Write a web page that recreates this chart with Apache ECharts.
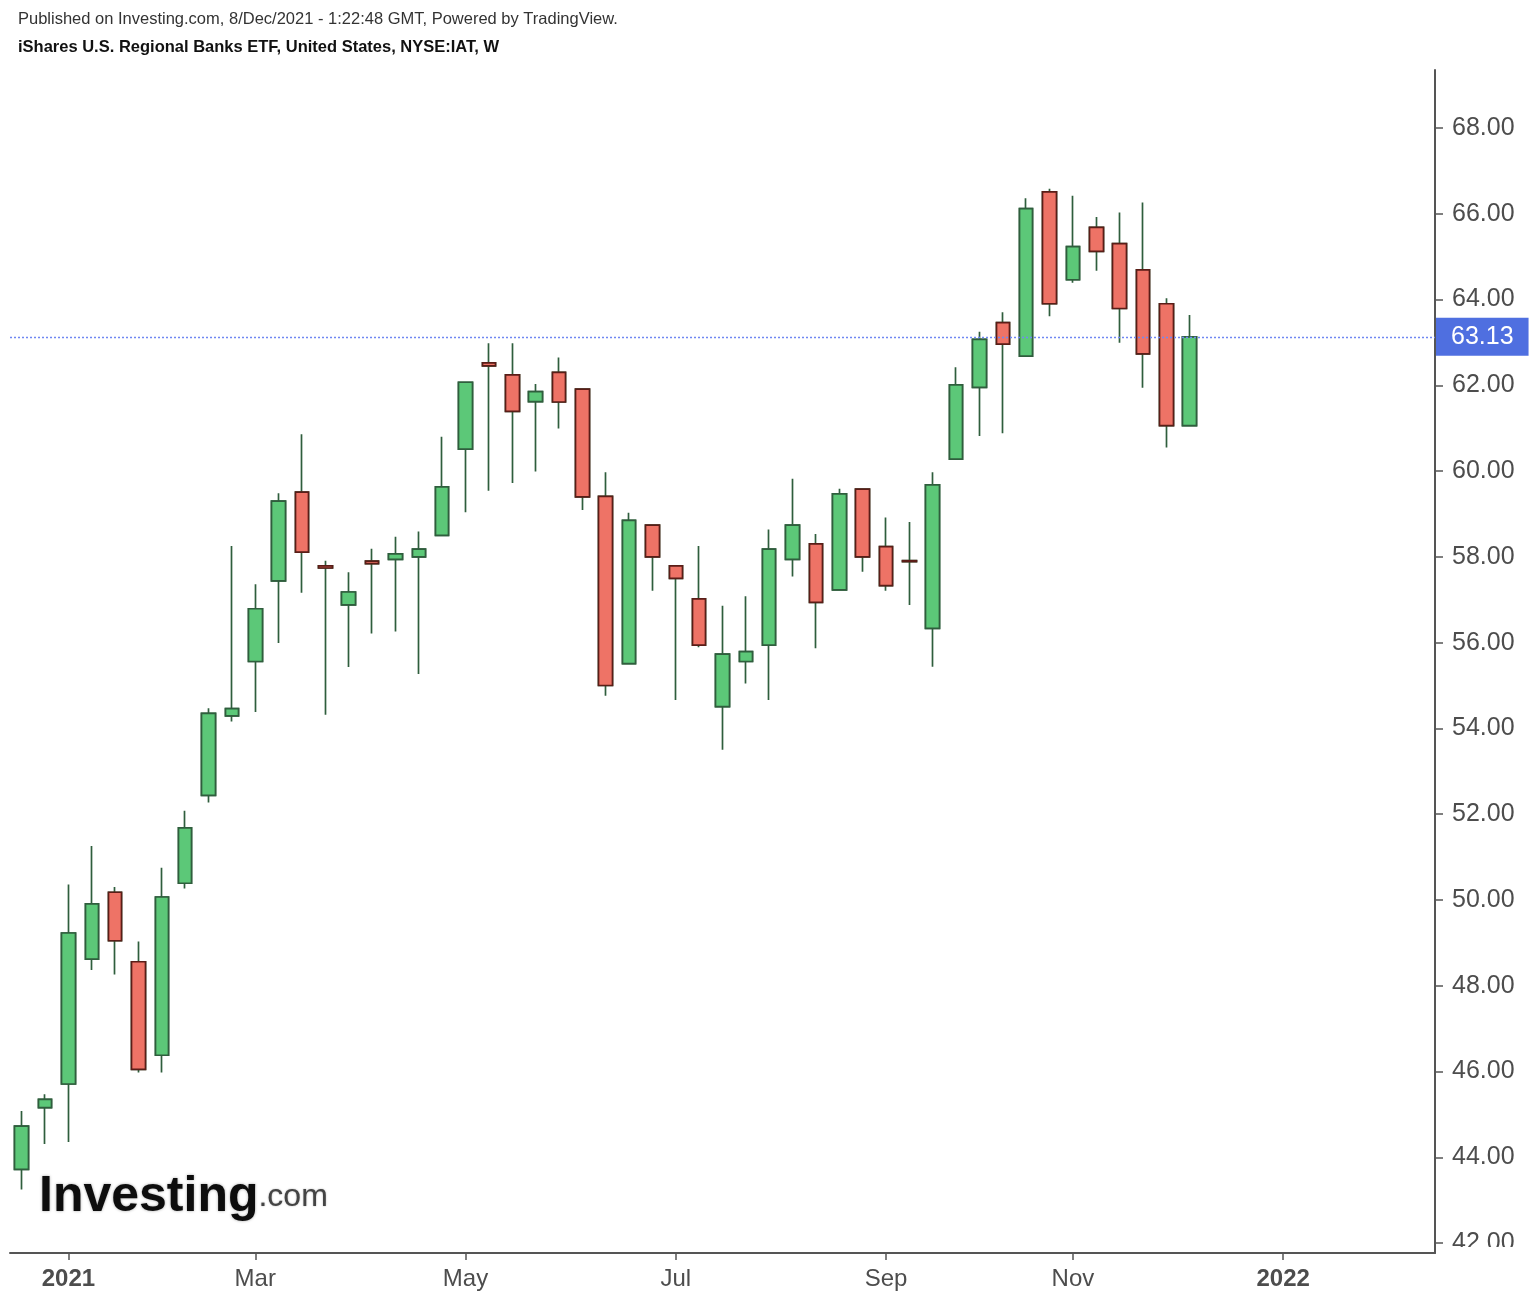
<!DOCTYPE html>
<html>
<head>
<meta charset="utf-8">
<script src="https://cdn.jsdelivr.net/npm/echarts@6/dist/echarts.min.js"></script>
<style>
html,body{margin:0;padding:0;background:#fff;}
#chart{width:1534px;height:1300px;}
</style>
</head>
<body>
<div id="chart"></div>
<script>
// Weekly categories (Monday of each week)
const categories = [
 '2020-12-21','2020-12-28','2021-01-04','2021-01-11','2021-01-18','2021-01-25',
 '2021-02-01','2021-02-08','2021-02-15','2021-02-22','2021-03-01','2021-03-08',
 '2021-03-15','2021-03-22','2021-03-29','2021-04-05','2021-04-12','2021-04-19',
 '2021-04-26','2021-05-03','2021-05-10','2021-05-17','2021-05-24','2021-05-31',
 '2021-06-07','2021-06-14','2021-06-21','2021-06-28','2021-07-05','2021-07-12',
 '2021-07-19','2021-07-26','2021-08-02','2021-08-09','2021-08-16','2021-08-23',
 '2021-08-30','2021-09-06','2021-09-13','2021-09-20','2021-09-27','2021-10-04',
 '2021-10-11','2021-10-18','2021-10-25','2021-11-01','2021-11-08','2021-11-15',
 '2021-11-22','2021-11-29','2021-12-06','2021-12-13','2021-12-20','2021-12-27',
 '2022-01-03','2022-01-10','2022-01-17','2022-01-24','2022-01-31','2022-02-07',
 '2022-02-14'
];
const openP = [43.72,45.16,45.71,48.62,50.18,48.56,46.38,50.39,52.44,54.29,
 55.56,57.44,59.51,57.79,56.88,57.90,57.94,58.00,58.50,60.51,
 62.52,62.24,61.62,62.30,61.91,59.41,55.51,58.74,57.79,57.02,
 54.51,55.56,55.94,57.94,58.30,57.23,59.58,58.24,57.91,56.33,
 60.28,61.95,63.46,62.68,66.51,64.46,65.68,65.30,64.69,63.90,61.06];
const highP = [45.08,45.47,50.36,51.26,50.30,49.03,50.75,52.08,54.47,58.25,
 57.36,59.48,60.86,57.91,57.64,58.19,58.47,58.59,60.80,62.09,
 62.98,62.98,62.03,62.65,61.93,59.97,59.03,58.76,57.80,58.25,
 56.86,57.08,58.64,59.82,58.53,59.59,59.60,58.92,58.81,59.97,
 62.42,63.25,63.70,66.36,66.58,66.42,65.92,66.03,66.26,64.03,63.64];
const lowP = [43.25,44.31,44.36,48.37,48.26,45.98,45.98,50.27,52.27,54.16,
 54.38,55.99,57.16,54.32,55.43,56.21,56.26,55.27,58.48,59.04,
 59.54,59.72,59.99,60.99,59.09,54.76,55.49,57.21,54.66,55.89,
 53.50,55.05,54.66,57.54,55.87,57.21,57.65,57.21,56.88,55.44,
 60.26,60.82,60.88,62.66,63.61,64.39,64.67,62.99,61.94,60.55,61.04];
const closeP = [44.73,45.35,49.23,49.91,49.05,46.05,50.07,51.68,54.35,54.46,
 56.79,59.30,58.11,57.74,57.18,57.84,58.07,58.18,59.63,62.07,
 62.45,61.39,61.85,61.61,59.40,55.00,58.85,58.00,57.50,55.94,
 55.73,55.79,58.18,58.74,56.94,59.47,58.00,57.33,57.89,59.68,
 62.01,63.07,62.96,66.12,63.90,65.23,65.12,63.79,62.73,61.06,63.13];
const lastPrice = 63.13;
const tickWeeks = ['2021-01-04','2021-03-01','2021-05-03','2021-07-05','2021-09-06','2021-11-01','2022-01-03'];
const tickLabels = ['2021','Mar','May','Jul','Sep','Nov','2022'];
const yTicks = [42,44,46,48,50,52,54,56,58,60,62,64,66,68];

const fullData = openP.map((o, i) => [o, closeP[i], lowP[i], highP[i]]);
const bodyData = openP.map((o, i) => [o, closeP[i], Math.min(o, closeP[i]), Math.max(o, closeP[i])]);

const labelMap = {};
tickWeeks.forEach((d, i) => { labelMap[d] = tickLabels[i]; });
const isTick = (idx, val) => labelMap[categories[idx]] !== undefined;

const FONT = '"Liberation Sans", Arial, Helvetica, sans-serif';
const chart = echarts.init(document.getElementById('chart'));
chart.setOption({
  animation: false,
  backgroundColor: '#ffffff',
  grid: { left: 10, right: 99, top: 70, bottom: 47 },
  xAxis: {
    type: 'category',
    data: categories,
    boundaryGap: true,
    axisLine: { lineStyle: { color: '#555555', width: 2 } },
    axisTick: { show: true, alignWithLabel: true, interval: isTick, length: 7, lineStyle: { color: '#555555', width: 1.5 } },
    axisLabel: {
      interval: isTick,
      margin: 14,
      fontFamily: FONT,
      fontSize: 24,
      color: '#4d4d4d',
      formatter: function (v) {
        const l = labelMap[v] || '';
        return /^\d{4}$/.test(l) ? '{b|' + l + '}' : l;
      },
      rich: { b: { fontWeight: 'bold', fontSize: 24, fontFamily: FONT, color: '#4d4d4d' } }
    },
    splitLine: { show: false }
  },
  yAxis: {
    type: 'value',
    position: 'right',
    min: 41.77,
    max: 69.35,
    scale: true,
    axisLine: { show: true, lineStyle: { color: '#555555', width: 2 } },
    axisTick: { show: true, length: 8, customValues: yTicks, lineStyle: { color: '#555555', width: 1.5 } },
    axisLabel: {
      customValues: yTicks,
      margin: 17,
      fontFamily: FONT,
      fontSize: 25,
      color: '#4d4d4d',
      formatter: v => v.toFixed(2)
    },
    splitLine: { show: false }
  },
  series: [
    {
      type: 'candlestick',
      name: 'wicks',
      data: fullData,
      barWidth: 14,
      itemStyle: {
        color: '#5cc878', color0: '#ee7366',
        borderColor: '#2f5e3d', borderColor0: '#2f5e3d', borderWidth: 1.7
      },
      silent: true
    },
    {
      type: 'candlestick',
      name: 'bodies',
      data: bodyData,
      barWidth: 14,
      itemStyle: {
        color: '#5cc878', color0: '#ee7366',
        borderColor: '#2f5e3d', borderColor0: '#5a1d17', borderWidth: 1.7
      },
      silent: true,
      markLine: {
        silent: true,
        symbol: ['none', 'none'],
        data: [{ yAxis: lastPrice }],
        lineStyle: { type: [2, 2], color: '#7088f2', width: 1.4 },
        label: {
          show: true,
          position: 'end',
          distance: 1,
          formatter: lastPrice.toFixed(2),
          color: '#ffffff',
          fontFamily: FONT,
          fontSize: 25,
          backgroundColor: '#4f6fe0',
          padding: [7, 15, 6, 15]
        }
      }
    }
  ],
  graphic: [
    { type: 'text', left: 18, top: 11, style: { text: 'Published on Investing.com, 8/Dec/2021 - 1:22:48 GMT, Powered by TradingView.', font: '16.5px ' + FONT, fill: '#333333' } },
    { type: 'text', left: 18, top: 39, style: { text: 'iShares U.S. Regional Banks ETF, United States, NYSE:IAT, W', font: 'bold 16.5px ' + FONT, fill: '#111111' } },
    { type: 'rect', shape: { x: 1441, y: 1247, width: 93, height: 53 }, style: { fill: '#ffffff' }, z: 100, zlevel: 1 },
    {
      type: 'text', left: 39, top: 1172, z: 50,
      style: {
        text: '{a|Investing}{b|.com}',
        rich: {
          a: { font: 'bold 50px ' + FONT, fill: '#0d0d0d', textShadowBlur: 3, textShadowColor: 'rgba(0,0,0,0.35)' },
          b: { font: '32px ' + FONT, fill: '#444444', textShadowBlur: 2, textShadowColor: 'rgba(0,0,0,0.3)' }
        }
      }
    }
  ]
});
</script>
</body>
</html>
